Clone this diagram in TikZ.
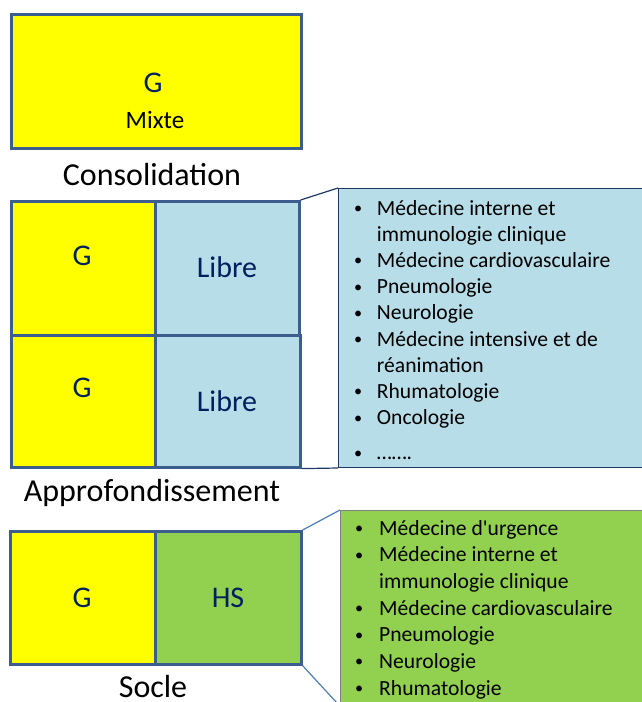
\documentclass[tikz,border=0pt]{standalone}
\usepackage{fontspec}
\setmainfont{Carlito}
\definecolor{gyellow}{HTML}{FFFF00}
\definecolor{lblue}{HTML}{B7DDE8}
\definecolor{lgreen}{HTML}{92D050}
\definecolor{bord}{HTML}{3B5E8F}
\definecolor{navytxt}{HTML}{002060}
\definecolor{darkline}{HTML}{1F3864}
\definecolor{lightline}{HTML}{4A7EBB}
\newcommand{\smbul}{\raisebox{1.5pt}{\scalebox{0.75}{\textbullet}}}
\begin{document}
\begin{tikzpicture}[x=1pt,y=-1pt,
  cell/.style={draw=bord,line width=2.6pt,anchor=north west,inner sep=0pt},
  big/.style={text=navytxt,font=\fontsize{30}{36}\selectfont,anchor=base,inner sep=0pt},
  lab/.style={text=black,font=\fontsize{32}{38}\selectfont,anchor=base,inner sep=0pt},
  listbox/.style={anchor=north west,inner sep=0pt},
  listtxt/.style={anchor=base west,inner sep=0pt,text=black}]
\useasboundingbox (0,0) rectangle (642,702);
% group 1
\node[cell,fill=gyellow,minimum width=290pt,minimum height=134pt] (top) at (10,13) {};
\node[big] (g0) at (153,92) {G};
\node[anchor=base,inner sep=0pt,font=\fontsize{25}{30}\selectfont] (mixte) at (155,128) {Mixte};
\node[lab] (cons) at (152,185) {Consolidation};
% group 2 list box
\node[listbox,draw=darkline,line width=1pt,fill=lblue,minimum width=310pt,minimum height=279pt] (list1) at (338,188) {};
\node[listtxt] (items1) at (354,215) {\fontsize{21.6}{26.2}\selectfont
\begin{tabular}[t]{@{}p{22.7pt}@{}l@{}}
\smbul & Médecine interne et\\
 & immunologie clinique\\
\smbul & Médecine cardiovasculaire\\
\smbul & Pneumologie\\
\smbul & Neurologie\\
\smbul & Médecine intensive et de\\
 & réanimation\\
\smbul & Rhumatologie\\
\smbul & Oncologie\\[9pt]
\smbul & …….
\end{tabular}};
% group 2 cells
\node[cell,fill=gyellow,minimum width=144pt,minimum height=134pt] (g1) at (10,200) {};
\node[cell,fill=lblue,minimum width=144pt,minimum height=134pt] (l1) at (154,200) {};
\node[cell,fill=gyellow,minimum width=144pt,minimum height=132pt] (g2) at (10,334) {};
\node[cell,fill=lblue,minimum width=145pt,minimum height=132pt] (l2) at (154,334) {};
\node[big] (tg1) at (82,265) {G};
\node[big] (tl1) at (227,277) {Libre};
\node[big] (tg2) at (82,397) {G};
\node[big] (tl2) at (227,411) {Libre};
\node[lab] (appro) at (152,501) {Approfondissement};
\draw[darkline,line width=1.2pt] (l1.north east) -- (list1.north west);
\draw[darkline,line width=1.2pt] (l2.south east) -- (list1.south west);
% group 3 list box
\node[listbox,draw=gray,line width=0.8pt,fill=lgreen,minimum width=310pt,minimum height=200pt] (list2) at (340,510) {};
\node[listtxt] (items2) at (355,535) {\fontsize{21.6}{26.67}\selectfont
\begin{tabular}[t]{@{}p{24pt}@{}l@{}}
\smbul & Médecine d\textquotesingle urgence\\
\smbul & Médecine interne et\\
 & immunologie clinique\\
\smbul & Médecine cardiovasculaire\\
\smbul & Pneumologie\\
\smbul & Neurologie\\
\smbul & Rhumatologie
\end{tabular}};
% group 3 cells
\node[cell,fill=gyellow,minimum width=145pt,minimum height=133pt] (g3) at (9,530) {};
\node[cell,fill=lgreen,minimum width=146pt,minimum height=133pt] (hs) at (154,530) {};
\node[big] (tg3) at (82,607) {G};
\node[big] (ths) at (228,607) {HS};
\node[lab] (socle) at (153,697) {Socle};
\coordinate (hsend) at (337,703);
\draw[lightline,line width=1.2pt] (hs.north east) -- (list2.north west);
\draw[lightline,line width=1.2pt] (hs.south east) -- (hsend);
\end{tikzpicture}
\end{document}
